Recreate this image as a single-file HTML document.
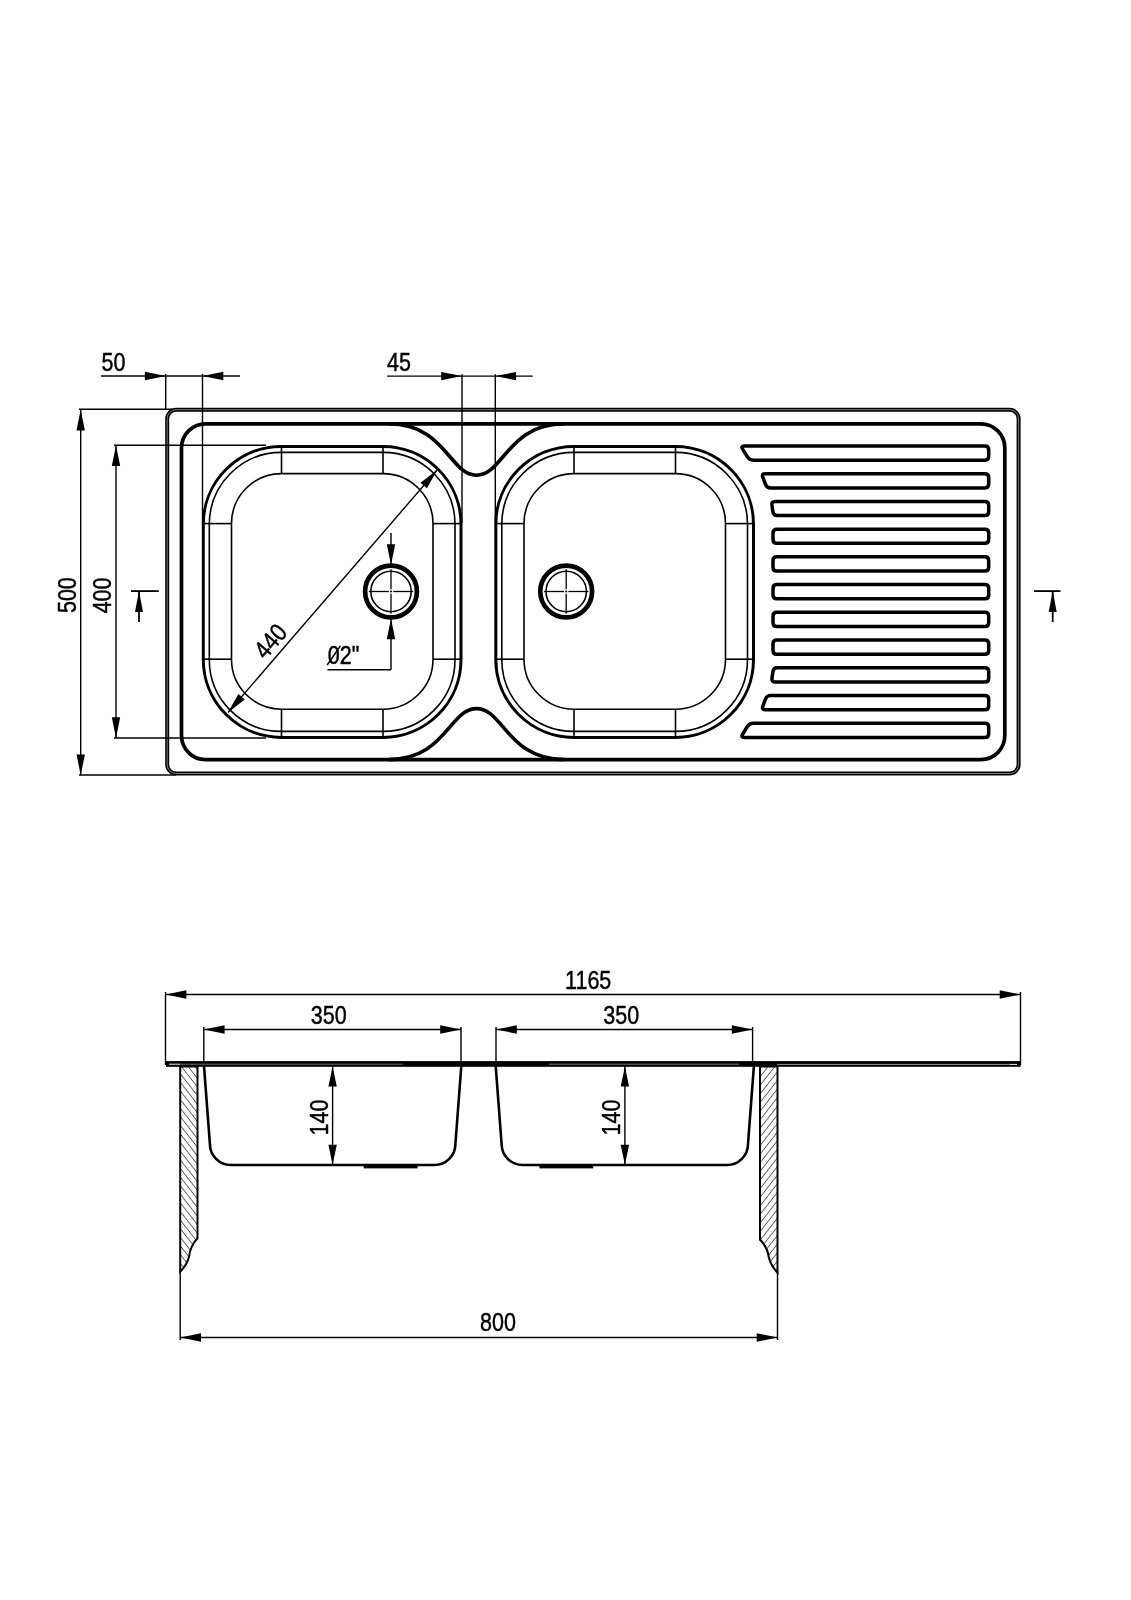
<!DOCTYPE html>
<html><head><meta charset="utf-8"><style>html,body{margin:0;padding:0;background:#fff}svg{display:block;will-change:transform}</style></head>
<body><svg width="1131" height="1600" viewBox="0 0 1131 1600">
<rect width="1131" height="1600" fill="#fff"/>
<path d="M176.20,409.70 L1009.60,409.70 A9.0,9.0 0 0 1 1018.60,418.70 L1018.60,764.50 A9.0,9.0 0 0 1 1009.60,773.50 L176.20,773.50 A9.0,9.0 0 0 1 167.20,764.50 L167.20,418.70 A9.0,9.0 0 0 1 176.20,409.70 Z" stroke="#000" stroke-width="4.0" fill="none" />
<path d="M176.20,409.70 L1009.60,409.70 A9.0,9.0 0 0 1 1018.60,418.70 L1018.60,764.50 A9.0,9.0 0 0 1 1009.60,773.50 L176.20,773.50 A9.0,9.0 0 0 1 167.20,764.50 L167.20,418.70 A9.0,9.0 0 0 1 176.20,409.70 Z" stroke="#999" stroke-width="0.8" fill="none" />
<path d="M205.50,423.80 L980.80,423.80 A24,24 0 0 1 1004.80,447.80 L1004.80,735.60 A24,24 0 0 1 980.80,759.60 L205.50,759.60 A24,24 0 0 1 181.50,735.60 L181.50,447.80 A24,24 0 0 1 205.50,423.80 Z" stroke="#000" stroke-width="3.7" fill="none" />
<path d="M388.7,423.8 C445.5,423.8 449.5,475.2 476.5,475.2 C503.5,475.2 507.49999999999994,423.8 564.3,423.8 " stroke="#000" stroke-width="3.6" fill="none" />
<path d="M388.7,759.6 C445.5,759.6 449.5,708.6 476.5,708.6 C503.5,708.6 507.49999999999994,759.6 564.3,759.6 " stroke="#000" stroke-width="3.6" fill="none" />
<path d="M281.30,446.40 L383.00,446.40 A78,78 0 0 1 461.00,524.40 L461.00,659.40 A78,78 0 0 1 383.00,737.40 L281.30,737.40 A78,78 0 0 1 203.30,659.40 L203.30,524.40 A78,78 0 0 1 281.30,446.40 Z" stroke="#000" stroke-width="3.0" fill="none" />
<path d="M281.30,452.40 L383.00,452.40 A72,72 0 0 1 455.00,524.40 L455.00,659.40 A72,72 0 0 1 383.00,731.40 L281.30,731.40 A72,72 0 0 1 209.30,659.40 L209.30,524.40 A72,72 0 0 1 281.30,452.40 Z" stroke="#000" stroke-width="1.6" fill="none" />
<path d="M281.50,473.60 L383.00,473.60 A50,50 0 0 1 433.00,523.60 L433.00,659.20 A50,50 0 0 1 383.00,709.20 L281.50,709.20 A50,50 0 0 1 231.50,659.20 L231.50,523.60 A50,50 0 0 1 281.50,473.60 Z" stroke="#000" stroke-width="1.6" fill="none" />
<line x1="281.50" y1="446.40" x2="281.50" y2="473.60" stroke="#000" stroke-width="1.6" />
<line x1="281.50" y1="709.20" x2="281.50" y2="737.40" stroke="#000" stroke-width="1.6" />
<line x1="383.00" y1="446.40" x2="383.00" y2="473.60" stroke="#000" stroke-width="1.6" />
<line x1="383.00" y1="709.20" x2="383.00" y2="737.40" stroke="#000" stroke-width="1.6" />
<line x1="203.30" y1="523.60" x2="231.50" y2="523.60" stroke="#000" stroke-width="1.6" />
<line x1="433.00" y1="523.60" x2="461.00" y2="523.60" stroke="#000" stroke-width="1.6" />
<line x1="203.30" y1="659.20" x2="231.50" y2="659.20" stroke="#000" stroke-width="1.6" />
<line x1="433.00" y1="659.20" x2="461.00" y2="659.20" stroke="#000" stroke-width="1.6" />
<path d="M573.80,446.40 L675.50,446.40 A78,78 0 0 1 753.50,524.40 L753.50,659.40 A78,78 0 0 1 675.50,737.40 L573.80,737.40 A78,78 0 0 1 495.80,659.40 L495.80,524.40 A78,78 0 0 1 573.80,446.40 Z" stroke="#000" stroke-width="3.0" fill="none" />
<path d="M573.80,452.40 L675.50,452.40 A72,72 0 0 1 747.50,524.40 L747.50,659.40 A72,72 0 0 1 675.50,731.40 L573.80,731.40 A72,72 0 0 1 501.80,659.40 L501.80,524.40 A72,72 0 0 1 573.80,452.40 Z" stroke="#000" stroke-width="1.6" fill="none" />
<path d="M574.00,473.60 L675.50,473.60 A50,50 0 0 1 725.50,523.60 L725.50,659.20 A50,50 0 0 1 675.50,709.20 L574.00,709.20 A50,50 0 0 1 524.00,659.20 L524.00,523.60 A50,50 0 0 1 574.00,473.60 Z" stroke="#000" stroke-width="1.6" fill="none" />
<line x1="574.00" y1="446.40" x2="574.00" y2="473.60" stroke="#000" stroke-width="1.6" />
<line x1="574.00" y1="709.20" x2="574.00" y2="737.40" stroke="#000" stroke-width="1.6" />
<line x1="675.50" y1="446.40" x2="675.50" y2="473.60" stroke="#000" stroke-width="1.6" />
<line x1="675.50" y1="709.20" x2="675.50" y2="737.40" stroke="#000" stroke-width="1.6" />
<line x1="495.80" y1="523.60" x2="524.00" y2="523.60" stroke="#000" stroke-width="1.6" />
<line x1="725.50" y1="523.60" x2="753.50" y2="523.60" stroke="#000" stroke-width="1.6" />
<line x1="495.80" y1="659.20" x2="524.00" y2="659.20" stroke="#000" stroke-width="1.6" />
<line x1="725.50" y1="659.20" x2="753.50" y2="659.20" stroke="#000" stroke-width="1.6" />
<circle cx="391.0" cy="591.5" r="25.9" stroke="#000" stroke-width="4.7" fill="none"/>
<circle cx="391.0" cy="591.5" r="20.2" stroke="#000" stroke-width="1.6" fill="none"/>
<line x1="368.80" y1="591.50" x2="388.80" y2="591.50" stroke="#000" stroke-width="1.3" />
<line x1="393.20" y1="591.50" x2="413.20" y2="591.50" stroke="#000" stroke-width="1.3" />
<line x1="391.00" y1="569.30" x2="391.00" y2="589.30" stroke="#000" stroke-width="1.3" />
<line x1="391.00" y1="593.70" x2="391.00" y2="613.70" stroke="#000" stroke-width="1.3" />
<circle cx="391.0" cy="591.5" r="1.1" fill="#000"/>
<circle cx="566.2" cy="591.5" r="25.9" stroke="#000" stroke-width="4.7" fill="none"/>
<circle cx="566.2" cy="591.5" r="20.2" stroke="#000" stroke-width="1.6" fill="none"/>
<line x1="544.00" y1="591.50" x2="564.00" y2="591.50" stroke="#000" stroke-width="1.3" />
<line x1="568.40" y1="591.50" x2="588.40" y2="591.50" stroke="#000" stroke-width="1.3" />
<line x1="566.20" y1="569.30" x2="566.20" y2="589.30" stroke="#000" stroke-width="1.3" />
<line x1="566.20" y1="593.70" x2="566.20" y2="613.70" stroke="#000" stroke-width="1.3" />
<circle cx="566.2" cy="591.5" r="1.1" fill="#000"/>
<path d="M742.60,449.18 Q740.60,445.95 744.40,445.95 L984.90,445.95 Q988.70,445.95 988.70,449.75 L988.70,456.35 Q988.70,460.15 984.90,460.15 L753.20,460.15 Q749.40,460.15 747.40,456.92 Z" stroke="#000" stroke-width="3.5" fill="none" />
<path d="M762.83,477.24 Q761.50,473.68 765.30,473.68 L984.90,473.68 Q988.70,473.68 988.70,477.48 L988.70,484.08 Q988.70,487.88 984.90,487.88 L770.60,487.88 Q766.80,487.88 765.47,484.32 Z" stroke="#000" stroke-width="3.5" fill="none" />
<path d="M771.96,505.17 Q771.40,501.41 775.20,501.41 L984.90,501.41 Q988.70,501.41 988.70,505.21 L988.70,511.81 Q988.70,515.61 984.90,515.61 L777.30,515.61 Q773.50,515.61 772.94,511.85 Z" stroke="#000" stroke-width="3.5" fill="none" />
<path d="M773.00,532.94 Q773.00,529.14 776.80,529.14 L984.90,529.14 Q988.70,529.14 988.70,532.94 L988.70,539.54 Q988.70,543.34 984.90,543.34 L776.80,543.34 Q773.00,543.34 773.00,539.54 Z" stroke="#000" stroke-width="3.5" fill="none" />
<path d="M773.00,560.67 Q773.00,556.87 776.80,556.87 L984.90,556.87 Q988.70,556.87 988.70,560.67 L988.70,567.27 Q988.70,571.07 984.90,571.07 L776.80,571.07 Q773.00,571.07 773.00,567.27 Z" stroke="#000" stroke-width="3.5" fill="none" />
<path d="M773.00,588.40 Q773.00,584.60 776.80,584.60 L984.90,584.60 Q988.70,584.60 988.70,588.40 L988.70,595.00 Q988.70,598.80 984.90,598.80 L776.80,598.80 Q773.00,598.80 773.00,595.00 Z" stroke="#000" stroke-width="3.5" fill="none" />
<path d="M773.00,616.13 Q773.00,612.33 776.80,612.33 L984.90,612.33 Q988.70,612.33 988.70,616.13 L988.70,622.73 Q988.70,626.53 984.90,626.53 L776.80,626.53 Q773.00,626.53 773.00,622.73 Z" stroke="#000" stroke-width="3.5" fill="none" />
<path d="M773.00,643.86 Q773.00,640.06 776.80,640.06 L984.90,640.06 Q988.70,640.06 988.70,643.86 L988.70,650.46 Q988.70,654.26 984.90,654.26 L776.80,654.26 Q773.00,654.26 773.00,650.46 Z" stroke="#000" stroke-width="3.5" fill="none" />
<path d="M772.94,671.55 Q773.50,667.79 777.30,667.79 L984.90,667.79 Q988.70,667.79 988.70,671.59 L988.70,678.19 Q988.70,681.99 984.90,681.99 L775.20,681.99 Q771.40,681.99 771.96,678.23 Z" stroke="#000" stroke-width="3.5" fill="none" />
<path d="M765.47,699.08 Q766.80,695.52 770.60,695.52 L984.90,695.52 Q988.70,695.52 988.70,699.32 L988.70,705.92 Q988.70,709.72 984.90,709.72 L765.30,709.72 Q761.50,709.72 762.83,706.16 Z" stroke="#000" stroke-width="3.5" fill="none" />
<path d="M747.40,726.48 Q749.40,723.25 753.20,723.25 L984.90,723.25 Q988.70,723.25 988.70,727.05 L988.70,733.65 Q988.70,737.45 984.90,737.45 L744.40,737.45 Q740.60,737.45 742.60,734.22 Z" stroke="#000" stroke-width="3.5" fill="none" />
<line x1="101.00" y1="376.00" x2="240.00" y2="376.00" stroke="#000" stroke-width="1.4" />
<line x1="165.70" y1="374.00" x2="165.70" y2="409.00" stroke="#000" stroke-width="1.4" />
<line x1="202.50" y1="374.00" x2="202.50" y2="523.00" stroke="#000" stroke-width="1.4" />
<path d="M165.70,376.00 L144.90,380.20 L144.90,371.80 Z" fill="#000"/>
<path d="M202.50,376.00 L223.30,371.80 L223.30,380.20 Z" fill="#000"/>
<g transform="translate(113.40,371.00) rotate(0) scale(0.86,1)"><text x="0" y="0" text-anchor="middle" font-family="Liberation Sans" font-size="25" fill="#000" stroke="#000" stroke-width="0.45">50</text></g>
<line x1="387.20" y1="376.10" x2="532.70" y2="376.10" stroke="#000" stroke-width="1.4" />
<line x1="462.00" y1="374.20" x2="462.00" y2="523.00" stroke="#000" stroke-width="1.4" />
<line x1="495.30" y1="374.20" x2="495.30" y2="523.00" stroke="#000" stroke-width="1.4" />
<path d="M462.00,376.10 L441.20,380.30 L441.20,371.90 Z" fill="#000"/>
<path d="M495.30,376.10 L516.10,371.90 L516.10,380.30 Z" fill="#000"/>
<g transform="translate(399.00,370.60) rotate(0) scale(0.86,1)"><text x="0" y="0" text-anchor="middle" font-family="Liberation Sans" font-size="25" fill="#000" stroke="#000" stroke-width="0.45">45</text></g>
<line x1="80.70" y1="409.60" x2="80.70" y2="775.20" stroke="#000" stroke-width="1.4" />
<line x1="79.00" y1="409.20" x2="172.00" y2="409.20" stroke="#000" stroke-width="1.4" />
<line x1="79.00" y1="775.00" x2="176.00" y2="775.00" stroke="#000" stroke-width="1.4" />
<path d="M80.70,409.60 L84.90,430.40 L76.50,430.40 Z" fill="#000"/>
<path d="M80.70,775.20 L76.50,754.40 L84.90,754.40 Z" fill="#000"/>
<g transform="translate(75.90,595.10) rotate(-90) scale(0.86,1)"><text x="0" y="0" text-anchor="middle" font-family="Liberation Sans" font-size="25" fill="#000" stroke="#000" stroke-width="0.45">500</text></g>
<line x1="116.00" y1="445.30" x2="116.00" y2="738.00" stroke="#000" stroke-width="1.4" />
<line x1="114.00" y1="445.30" x2="266.00" y2="445.30" stroke="#000" stroke-width="1.4" />
<line x1="114.00" y1="738.00" x2="266.00" y2="738.00" stroke="#000" stroke-width="1.4" />
<path d="M116.00,445.30 L120.20,466.10 L111.80,466.10 Z" fill="#000"/>
<path d="M116.00,738.00 L111.80,717.20 L120.20,717.20 Z" fill="#000"/>
<g transform="translate(110.50,595.40) rotate(-90) scale(0.86,1)"><text x="0" y="0" text-anchor="middle" font-family="Liberation Sans" font-size="25" fill="#000" stroke="#000" stroke-width="0.45">400</text></g>
<line x1="131.00" y1="591.10" x2="158.80" y2="591.10" stroke="#000" stroke-width="1.8" />
<path d="M139.00,591.10 L143.00,612.10 L135.00,612.10 Z" fill="#000"/>
<line x1="139.00" y1="591.10" x2="139.00" y2="622.10" stroke="#000" stroke-width="1.8" />
<line x1="1034.00" y1="591.10" x2="1060.50" y2="591.10" stroke="#000" stroke-width="1.8" />
<path d="M1052.70,591.10 L1056.70,612.10 L1048.70,612.10 Z" fill="#000"/>
<line x1="1052.70" y1="591.10" x2="1052.70" y2="622.10" stroke="#000" stroke-width="1.8" />
<line x1="228.00" y1="712.50" x2="437.30" y2="469.80" stroke="#000" stroke-width="1.4" />
<path d="M228.00,712.50 L238.40,694.01 L244.76,699.49 Z" fill="#000"/>
<path d="M437.30,469.80 L426.90,488.29 L420.54,482.81 Z" fill="#000"/>
<g transform="translate(276.84,646.74) rotate(-49.22612238702554) scale(0.86,1)"><text x="0" y="0" text-anchor="middle" font-family="Liberation Sans" font-size="25" fill="#000" stroke="#000" stroke-width="0.45">440</text></g>
<line x1="391.00" y1="533.00" x2="391.00" y2="564.00" stroke="#000" stroke-width="1.4" />
<path d="M391.00,565.00 L386.80,544.20 L395.20,544.20 Z" fill="#000"/>
<path d="M391.00,618.50 L395.20,639.30 L386.80,639.30 Z" fill="#000"/>
<line x1="391.00" y1="618.00" x2="391.00" y2="669.80" stroke="#000" stroke-width="1.4" />
<line x1="391.00" y1="669.80" x2="327.50" y2="669.80" stroke="#000" stroke-width="1.4" />
<g transform="translate(343.50,664.20) rotate(0) scale(0.86,1)"><text x="0" y="0" text-anchor="middle" font-family="Liberation Sans" font-size="25" fill="#000" stroke="#000" stroke-width="0.45">02"</text></g>
<line x1="327.20" y1="665.00" x2="340.40" y2="645.80" stroke="#000" stroke-width="1.5" />
<line x1="165.50" y1="994.50" x2="1020.50" y2="994.50" stroke="#000" stroke-width="1.4" />
<line x1="165.50" y1="992.00" x2="165.50" y2="1065.00" stroke="#000" stroke-width="1.4" />
<line x1="1020.50" y1="992.00" x2="1020.50" y2="1065.00" stroke="#000" stroke-width="1.4" />
<path d="M165.50,994.50 L186.30,990.30 L186.30,998.70 Z" fill="#000"/>
<path d="M1020.50,994.50 L999.70,998.70 L999.70,990.30 Z" fill="#000"/>
<g transform="translate(588.20,989.40) rotate(0) scale(0.86,1)"><text x="0" y="0" text-anchor="middle" font-family="Liberation Sans" font-size="25" fill="#000" stroke="#000" stroke-width="0.45">1165</text></g>
<line x1="203.80" y1="1029.50" x2="461.00" y2="1029.50" stroke="#000" stroke-width="1.4" />
<line x1="203.80" y1="1027.00" x2="203.80" y2="1066.00" stroke="#000" stroke-width="1.4" />
<line x1="461.00" y1="1027.00" x2="461.00" y2="1066.00" stroke="#000" stroke-width="1.4" />
<path d="M203.80,1029.50 L224.60,1025.30 L224.60,1033.70 Z" fill="#000"/>
<path d="M461.00,1029.50 L440.20,1033.70 L440.20,1025.30 Z" fill="#000"/>
<g transform="translate(328.70,1024.30) rotate(0) scale(0.86,1)"><text x="0" y="0" text-anchor="middle" font-family="Liberation Sans" font-size="25" fill="#000" stroke="#000" stroke-width="0.45">350</text></g>
<line x1="496.00" y1="1029.50" x2="752.60" y2="1029.50" stroke="#000" stroke-width="1.4" />
<line x1="496.00" y1="1027.00" x2="496.00" y2="1066.00" stroke="#000" stroke-width="1.4" />
<line x1="752.60" y1="1027.00" x2="752.60" y2="1066.00" stroke="#000" stroke-width="1.4" />
<path d="M496.00,1029.50 L516.80,1025.30 L516.80,1033.70 Z" fill="#000"/>
<path d="M752.60,1029.50 L731.80,1033.70 L731.80,1025.30 Z" fill="#000"/>
<g transform="translate(621.20,1024.30) rotate(0) scale(0.86,1)"><text x="0" y="0" text-anchor="middle" font-family="Liberation Sans" font-size="25" fill="#000" stroke="#000" stroke-width="0.45">350</text></g>
<rect x="166" y="1061.1" width="854.5" height="5.7" fill="#000"/>
<line x1="169.00" y1="1064.20" x2="180.00" y2="1064.20" stroke="#eee" stroke-width="1.0" />
<line x1="180.00" y1="1064.20" x2="403.00" y2="1064.20" stroke="#777" stroke-width="0.9" />
<line x1="549.00" y1="1064.20" x2="739.00" y2="1064.20" stroke="#888" stroke-width="0.9" />
<line x1="777.00" y1="1064.40" x2="1010.00" y2="1064.40" stroke="#bbb" stroke-width="0.8" />
<line x1="1010.00" y1="1064.40" x2="1017.00" y2="1064.40" stroke="#eee" stroke-width="1.0" />
<path d="M204,1066 L209.9,1144.0 A21,21 0 0 0 230.9,1165.0 L434.40000000000003,1165.0 A21,21 0 0 0 455.40000000000003,1144.0 L461.3,1066" stroke="#000" stroke-width="2.6" fill="none" />
<path d="M495.7,1066 L501.59999999999997,1144.0 A21,21 0 0 0 522.5999999999999,1165.0 L727.0,1165.0 A21,21 0 0 0 748.0,1144.0 L753.9,1066" stroke="#000" stroke-width="2.6" fill="none" />
<rect x="363.7" y="1165" width="53.8" height="3.4" fill="#000"/>
<rect x="539.4" y="1165" width="53.8" height="3.4" fill="#000"/>
<line x1="332.60" y1="1066.00" x2="332.60" y2="1165.00" stroke="#000" stroke-width="1.4" />
<path d="M332.60,1066.50 L336.80,1086.50 L328.40,1086.50 Z" fill="#000"/>
<path d="M332.60,1164.80 L328.40,1144.80 L336.80,1144.80 Z" fill="#000"/>
<g transform="translate(327.80,1117.50) rotate(-90) scale(0.86,1)"><text x="0" y="0" text-anchor="middle" font-family="Liberation Sans" font-size="25" fill="#000" stroke="#000" stroke-width="0.45">140</text></g>
<line x1="624.90" y1="1066.00" x2="624.90" y2="1165.00" stroke="#000" stroke-width="1.4" />
<path d="M624.90,1066.50 L629.10,1086.50 L620.70,1086.50 Z" fill="#000"/>
<path d="M624.90,1164.80 L620.70,1144.80 L629.10,1144.80 Z" fill="#000"/>
<g transform="translate(620.00,1117.50) rotate(-90) scale(0.86,1)"><text x="0" y="0" text-anchor="middle" font-family="Liberation Sans" font-size="25" fill="#000" stroke="#000" stroke-width="0.45">140</text></g>
<defs><pattern id="hL" patternUnits="userSpaceOnUse" width="5.3" height="5.3" patternTransform="rotate(-38)"><line x1="0" y1="-1" x2="0" y2="6" stroke="#000" stroke-width="1.15"/></pattern><pattern id="hR" patternUnits="userSpaceOnUse" width="5.3" height="5.3" patternTransform="rotate(38)"><line x1="0" y1="-1" x2="0" y2="6" stroke="#000" stroke-width="1.15"/></pattern></defs>
<path d="M180.2,1066.5 L197.5,1066.5 L197.5,1238.4 C192,1244 190,1249 189,1256.8 C187.5,1263 184,1268 180.2,1271.6 Z" stroke="#000" stroke-width="2.0" fill="url(#hL)" />
<path d="M777.5,1066.5 L760,1066.5 L760,1239.8 C765,1244.6 767,1249 767.9,1253 C769,1261 773,1268 777.5,1272.7 Z" stroke="#000" stroke-width="2.0" fill="url(#hR)" />
<line x1="180.20" y1="1271.00" x2="180.20" y2="1340.00" stroke="#000" stroke-width="1.4" />
<line x1="777.50" y1="1272.00" x2="777.50" y2="1340.00" stroke="#000" stroke-width="1.4" />
<line x1="180.20" y1="1337.50" x2="777.50" y2="1337.50" stroke="#000" stroke-width="1.4" />
<path d="M180.20,1337.50 L201.00,1333.30 L201.00,1341.70 Z" fill="#000"/>
<path d="M777.50,1337.50 L756.70,1341.70 L756.70,1333.30 Z" fill="#000"/>
<g transform="translate(498.00,1330.80) rotate(0) scale(0.86,1)"><text x="0" y="0" text-anchor="middle" font-family="Liberation Sans" font-size="25" fill="#000" stroke="#000" stroke-width="0.45">800</text></g>
</svg></body></html>
